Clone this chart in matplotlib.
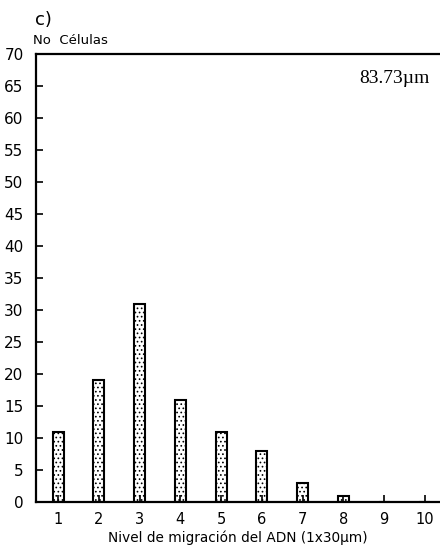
import matplotlib
matplotlib.use("Agg")
import matplotlib.pyplot as plt

# Histogram of cells by DNA migration level
levels = [1, 2, 3, 4, 5, 6, 7, 8, 9, 10]
cells = [11, 19, 31, 16, 11, 8, 3, 1, 0, 0]
y_ticks = list(range(0, 75, 5))

plt.rcParams['font.family'] = ['DejaVu Sans']
plt.rcParams['hatch.linewidth'] = 0.7
plt.rcParams['hatch.color'] = '#444444'

fig = plt.figure(figsize=(4.4, 5.48), dpi=100)
ax = fig.add_axes([0.082, 0.084, 0.918, 0.8175])

ax.bar(levels, cells, width=0.27, facecolor='white', edgecolor='black',
       linewidth=1.5, hatch='....')

ax.set_xlim(0.46, 10.37)
ax.set_ylim(0, 70)
ax.set_xticks(levels)
ax.set_yticks(y_ticks)
ax.tick_params(axis='both', direction='in', length=5, width=1.2,
               labelsize=11, pad=9)
ax.tick_params(axis='x', pad=7, labelsize=10.5)

for side in ['left', 'top', 'bottom']:
    ax.spines[side].set_linewidth(1.6)
ax.spines['right'].set_visible(False)

ax.set_xlabel('Nivel de migración del ADN (1x30µm)', fontsize=9.8, labelpad=3)

fig.text(0.08, 0.963, 'c)', fontsize=13, ha='left', va='center')
fig.text(0.075, 0.927, 'No  Células', fontsize=9.5, ha='left', va='center')
ax.text(0.975, 0.965, '83.73µm', transform=ax.transAxes, ha='right', va='top',
        fontsize=14, family='Liberation Serif')

fig.savefig('out.png', dpi=100)
